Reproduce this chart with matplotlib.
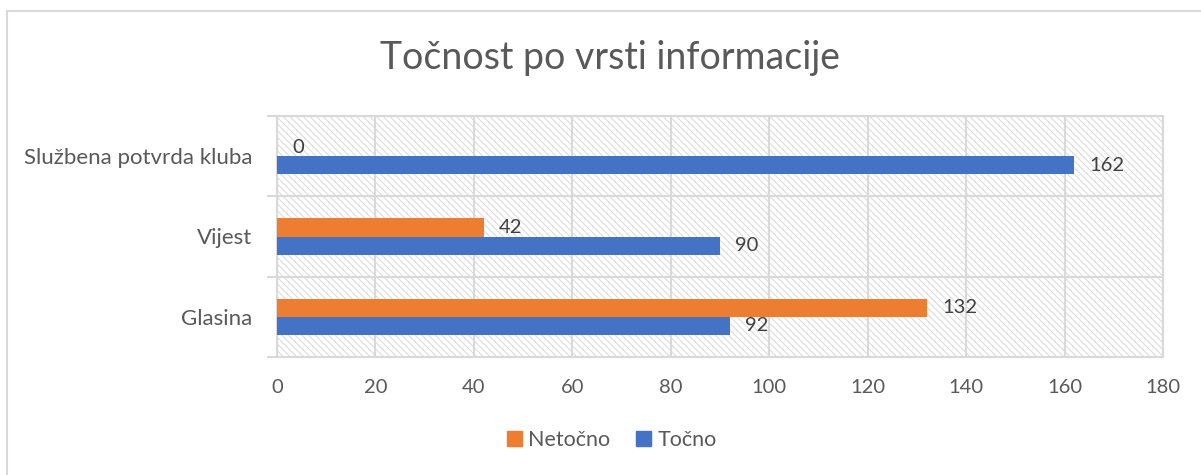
import numpy as np
import matplotlib
matplotlib.use("Agg")
from matplotlib import pyplot as plt
from matplotlib.patches import Rectangle, Patch

# data (bottom to top, as drawn)
categories = ["Glasina", "Vijest", "Službena potvrda kluba"]
netocno = [132, 42, 0]
tocno = [92, 90, 162]
x_ticks = [0, 20, 40, 60, 80, 100, 120, 140, 160, 180]

plt.rcParams['font.family'] = ['Lato', 'DejaVu Sans']
plt.rcParams['hatch.linewidth'] = 0.7
plt.rcParams['hatch.color'] = '#dcdcdc'

orange = '#ED7D31'
blue = '#4472C4'
grey_txt = '#595959'
grid_c = '#d9d9d9'

fig = plt.figure(figsize=(12.01, 4.75), dpi=100)
# chart frame border
fig.add_artist(Rectangle((7 / 1201, -0.1), 1.2, 1 - 11 / 475 + 0.1, transform=fig.transFigure,
                         fill=False, edgecolor=grid_c, linewidth=1.5))

ax = fig.add_axes([277 / 1201, 1 - 357 / 475, (1163 - 277) / 1201, (357 - 116) / 475])

# hatched plot area
ax.patch.set_facecolor('white')
ax.patch.set_hatch('\\\\\\\\\\')
ax.patch.set_edgecolor(grid_c)
ax.patch.set_linewidth(0)

y = np.arange(len(categories))
h = 0.225
b1 = ax.barh(y + h / 2, netocno, height=h, color=orange, label='Netočno', zorder=3)
b2 = ax.barh(y - h / 2, tocno, height=h, color=blue, label='Točno', zorder=3)
ax.bar_label(b1, padding=11, fontsize=14.5, color='#404040')
ax.bar_label(b2, padding=11, fontsize=14.5, color='#404040')

ax.set_xlim(0, 180)
ax.set_ylim(-0.5, len(categories) - 0.5)
ax.set_xticks(x_ticks)
ax.set_yticks(y)
ax.set_yticklabels(categories)
ax.set_yticks(np.arange(-0.5, len(categories), 1), minor=True)
ax.tick_params(axis='x', length=0, pad=16, labelsize=14.5, labelcolor=grey_txt)
ax.tick_params(axis='y', which='major', length=0, pad=18, labelsize=16, labelcolor=grey_txt)
ax.tick_params(axis='y', which='minor', length=7, width=1.5, color=grid_c)

ax.grid(axis='x', color=grid_c, linewidth=1.5, zorder=1)
ax.grid(axis='y', which='minor', color=grid_c, linewidth=1.5, zorder=1)
ax.set_axisbelow(True)
for s in ax.spines.values():
    s.set_color(grid_c)
    s.set_linewidth(1.5)

fig.text(610 / 1201, 1 - 58 / 475, "Točnost po vrsti informacije", ha='center', va='center',
         fontsize=27, color=grey_txt)

handles = [Patch(color=orange), Patch(color=blue)]
fig.legend(handles, ['Netočno', 'Točno'], loc='center', bbox_to_anchor=(612 / 1201, 1 - 440 / 475),
           ncol=2, frameon=False, fontsize=15.5, labelcolor=grey_txt, handlelength=0.7,
           handleheight=0.7, handletextpad=0.3, columnspacing=1.2)

fig.savefig('out.png', dpi=100)
